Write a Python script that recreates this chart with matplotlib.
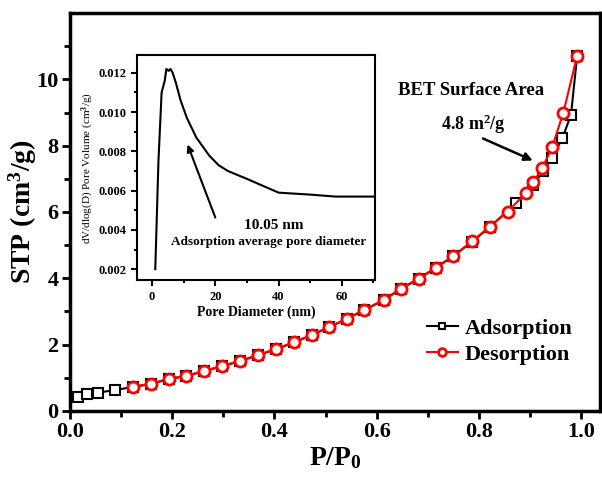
import numpy as np
import matplotlib
matplotlib.use("Agg")
import matplotlib.pyplot as plt
from matplotlib.ticker import MultipleLocator, FixedLocator

plt.rcParams["font.family"] = "Liberation Serif"
plt.rcParams["font.weight"] = "bold"
plt.rcParams["mathtext.fontset"] = "custom"
plt.rcParams["mathtext.rm"] = "Liberation Serif:bold"
plt.rcParams["mathtext.it"] = "Liberation Serif:bold"
plt.rcParams["mathtext.bf"] = "Liberation Serif:bold"

# Isotherm data
ads_x = [0.016, 0.033, 0.055, 0.088, 0.123, 0.158, 0.193, 0.228, 0.263, 0.298,
         0.333, 0.368, 0.403, 0.439, 0.474, 0.507, 0.542, 0.575, 0.614, 0.647,
         0.682, 0.715, 0.750, 0.786, 0.821, 0.873, 0.906, 0.926, 0.943, 0.963,
         0.980, 0.992]
ads_y = [0.42, 0.52, 0.55, 0.63, 0.72, 0.81, 0.96, 1.05, 1.20, 1.35,
         1.50, 1.68, 1.86, 2.07, 2.29, 2.53, 2.77, 3.04, 3.34, 3.68,
         3.98, 4.31, 4.67, 5.10, 5.54, 6.28, 6.80, 7.25, 7.64, 8.22,
         8.94, 10.72]

des_x = [0.123, 0.158, 0.193, 0.228, 0.263, 0.298, 0.333, 0.368, 0.403, 0.439,
         0.474, 0.507, 0.542, 0.575, 0.614, 0.647, 0.682, 0.715, 0.750, 0.786,
         0.821, 0.856, 0.891, 0.906, 0.924, 0.943, 0.965, 0.992]
des_y = [0.73, 0.82, 0.97, 1.06, 1.21, 1.36, 1.51, 1.69, 1.87, 2.08,
         2.30, 2.54, 2.78, 3.05, 3.35, 3.69, 3.99, 4.32, 4.68, 5.11,
         5.56, 6.01, 6.56, 6.89, 7.34, 7.95, 9.00, 10.72]

# Pore size distribution (inset)
pore_d = [1.0, 2.0, 3.0, 4.0, 4.5, 5.2, 5.8, 6.5, 7.5, 9, 11, 14, 18, 21, 24,
          30, 40, 50, 58, 65, 72]
pore_v = [0.0020, 0.0075, 0.0110, 0.0116, 0.0122, 0.0121, 0.0122, 0.0120,
          0.0115, 0.0106, 0.0097, 0.0087, 0.0078, 0.0073, 0.0070, 0.0066,
          0.0059, 0.0058, 0.0057, 0.0057, 0.0057]

fig = plt.figure(figsize=(6.02, 4.84), dpi=100)
ax = fig.add_axes([0.116, 0.151, 0.881, 0.822])

ax.plot(ads_x, ads_y, color="black", lw=1.5, marker="s", ms=7,
        mfc="white", mec="black", mew=1.5, label="Adsorption")
ax.plot(des_x, des_y, color="red", lw=1.5, marker="o", ms=8,
        mfc="white", mec="red", mew=2, label="Desorption")

ax.set_xlim(0, 1.037)
ax.set_ylim(0, 12)
ax.xaxis.set_major_locator(MultipleLocator(0.2))
ax.xaxis.set_minor_locator(MultipleLocator(0.1))
ax.yaxis.set_major_locator(FixedLocator([0, 2, 4, 6, 8, 10]))
ax.yaxis.set_minor_locator(FixedLocator([1, 3, 5, 7, 9, 11]))
ax.tick_params(which="both", direction="out", width=2, labelsize=16,
               top=False, right=False, pad=2)
ax.tick_params(which="major", length=6)
ax.tick_params(which="minor", length=4)
ax.xaxis.set_major_formatter(plt.FuncFormatter(lambda v, p: f"{v:.1f}"))
for s in ax.spines.values():
    s.set_linewidth(2.5)

ax.set_xlabel("P/P$_0$", fontsize=20, fontweight="bold", labelpad=2)
ax.set_ylabel("STP (cm$^3$/g)", fontsize=20, fontweight="bold")
ax.yaxis.set_label_coords(-0.058, 0.5)

ax.legend(loc="lower right", bbox_to_anchor=(0.985, 0.065), frameon=False,
          fontsize=16, handlelength=1.4, handletextpad=0.3, labelspacing=0.25,
          markerscale=0.7)

ax.text(0.785, 9.65, "BET Surface Area", fontsize=13.5, fontweight="bold",
        ha="center", va="center")
ax.text(0.79, 8.65, "4.8 m$^2$/g", fontsize=13, fontweight="bold",
        ha="center", va="center")
ax.annotate("", xy=(0.910, 7.52), xytext=(0.803, 8.25),
            arrowprops=dict(arrowstyle="-|>", color="black", lw=1.8,
                            mutation_scale=12))

# Inset
ins = fig.add_axes([0.228, 0.421, 0.395, 0.465])
ins.plot(pore_d, pore_v, color="black", lw=1.5)
ins.set_xlim(-4.7, 70.5)
ins.set_ylim(0.00144, 0.0129)
ins.xaxis.set_major_locator(MultipleLocator(20))
ins.xaxis.set_minor_locator(MultipleLocator(10))
ins.yaxis.set_major_locator(MultipleLocator(0.002))
ins.yaxis.set_minor_locator(MultipleLocator(0.001))
ins.yaxis.set_major_formatter(plt.FuncFormatter(lambda v, p: f"{v:.3f}"))
ins.tick_params(which="both", direction="out", width=1.5, labelsize=9,
                top=False, right=False)
ins.tick_params(which="major", length=4)
ins.tick_params(which="minor", length=2.5)
for s in ins.spines.values():
    s.set_linewidth(1.5)
ins.set_xlabel("Pore Diameter (nm)", fontsize=10, fontweight="bold", labelpad=2)
ins.set_ylabel("dV/dlog(D) Pore Volume (cm$^3$/g)", fontsize=8,
               fontweight="normal", labelpad=2)
ins.annotate("", xy=(10.9, 0.00848), xytext=(20.3, 0.0045),
             arrowprops=dict(arrowstyle="-|>", color="black", lw=1.5,
                             mutation_scale=10))
ins.text(38.5, 0.00425, "10.05 nm", fontsize=11, fontweight="bold",
         ha="center", va="center")
ins.text(37, 0.00338, "Adsorption average pore diameter", fontsize=9.5,
         fontweight="bold", ha="center", va="center")

fig.savefig("out.png", dpi=100)
